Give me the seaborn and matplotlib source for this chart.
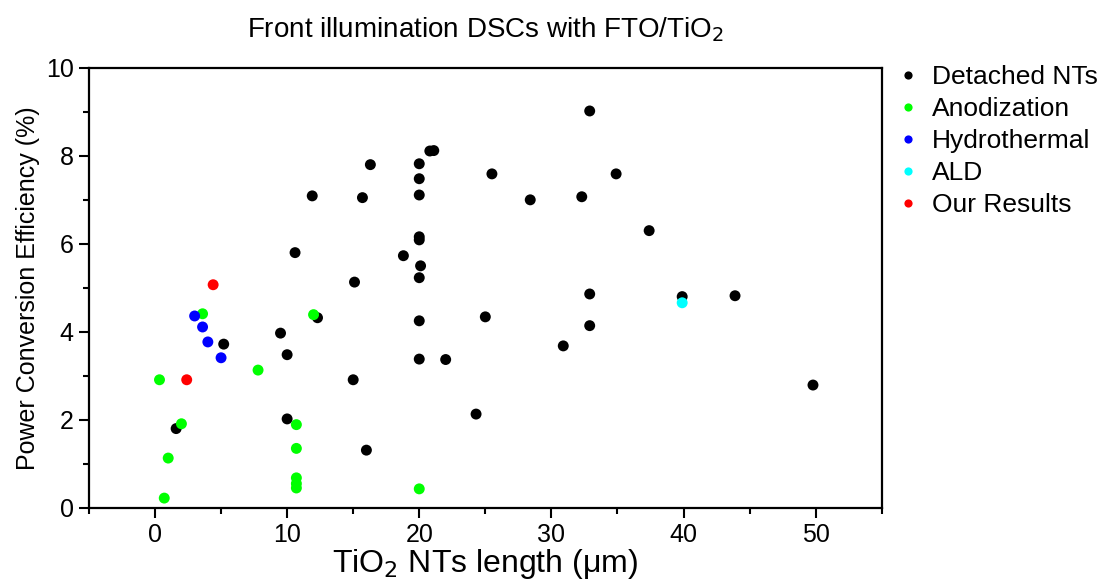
import matplotlib
matplotlib.use("Agg")
import matplotlib.pyplot as plt
import seaborn as sns
import pandas as pd
from matplotlib.ticker import MultipleLocator

# ---- data ----
detached_x = [20.8, 21.1, 16.3, 20.0, 20.0, 25.5, 11.9, 15.7, 20.0, 28.4, 20.0, 20.0, 10.6, 18.8,
              20.1, 20.0, 15.1, 12.3, 20.0, 25.0, 9.5, 10.0, 20.0, 22.0, 15.0, 10.0, 24.3, 16.0,
              5.2, 1.6, 32.9, 34.9, 32.3, 37.4, 32.9, 39.9, 43.9, 32.9, 30.9, 49.8]
detached_y = [8.11, 8.12, 7.80, 7.82, 7.48, 7.59, 7.09, 7.05, 7.11, 7.00, 6.16, 6.09, 5.80, 5.73,
              5.50, 5.23, 5.13, 4.32, 4.25, 4.34, 3.97, 3.48, 3.38, 3.37, 2.91, 2.02, 2.13, 1.31,
              3.72, 1.80, 9.02, 7.59, 7.07, 6.30, 4.86, 4.80, 4.82, 4.14, 3.68, 2.79]
anod_x = [0.34, 0.7, 1.0, 2.0, 3.6, 7.8, 10.7, 10.7, 10.7, 10.7, 10.7, 12.0, 20.0]
anod_y = [2.91, 0.22, 1.13, 1.91, 4.41, 3.13, 1.89, 1.35, 0.68, 0.55, 0.45, 4.39, 0.43]
hydro_x = [3.0, 3.6, 4.0, 5.0]
hydro_y = [4.36, 4.11, 3.77, 3.41]
ald_x = [39.9]
ald_y = [4.66]
ours_x = [4.4, 2.4]
ours_y = [5.07, 2.91]

groups = ["Detached NTs", "Anodization", "Hydrothermal", "ALD", "Our Results"]
colors = ["#000000", "#00ff00", "#0000ff", "#00ffff", "#ff0000"]

xs = [detached_x, anod_x, hydro_x, ald_x, ours_x]
ys = [detached_y, anod_y, hydro_y, ald_y, ours_y]
df = pd.concat([pd.DataFrame({"x": x, "y": y, "g": g}) for x, y, g in zip(xs, ys, groups)],
               ignore_index=True)

sns.set_style("white")
plt.rcParams["font.family"] = ["Liberation Sans", "DejaVu Sans"]
plt.rcParams["text.color"] = "black"
plt.rcParams["axes.labelcolor"] = "black"
plt.rcParams["xtick.color"] = "black"
plt.rcParams["ytick.color"] = "black"

fig = plt.figure(figsize=(10.98, 5.85), dpi=100)
ax = fig.add_axes([0.081, 0.132, 0.722, 0.752])

sns.scatterplot(data=df, x="x", y="y", hue="g", hue_order=groups,
                palette=dict(zip(groups, colors)), s=62, linewidth=0, ax=ax)

ax.set_xlim(-5, 55)
ax.set_ylim(0, 10)
ax.xaxis.set_major_locator(MultipleLocator(10))
ax.xaxis.set_minor_locator(MultipleLocator(5))
ax.yaxis.set_major_locator(MultipleLocator(2))
ax.yaxis.set_minor_locator(MultipleLocator(1))
ax.tick_params(which="major", direction="out", length=7, width=1.5, labelsize=18,
               bottom=True, left=True, top=False, right=False, pad=4)
ax.tick_params(which="minor", direction="out", length=4, width=1.5,
               bottom=True, left=True, top=False, right=False)
for sp in ax.spines.values():
    sp.set_visible(True)
    sp.set_linewidth(1.6)
    sp.set_color("black")

ax.set_xlabel("TiO$_2$ NTs length (μm)", fontsize=23, labelpad=0)
ax.set_ylabel("Power Conversion Efficiency (%)", fontsize=18, labelpad=4)
ax.set_title("Front illumination DSCs with FTO/TiO$_2$", fontsize=20, pad=22)

h, l = ax.get_legend_handles_labels()
ax.legend(h, l, loc="upper left", bbox_to_anchor=(0.993, 1.048), frameon=False,
          fontsize=19, handletextpad=0.4, labelspacing=0.3, markerscale=0.75,
          handlelength=1.0, borderaxespad=0.3)

fig.savefig("out.png", dpi=100)
